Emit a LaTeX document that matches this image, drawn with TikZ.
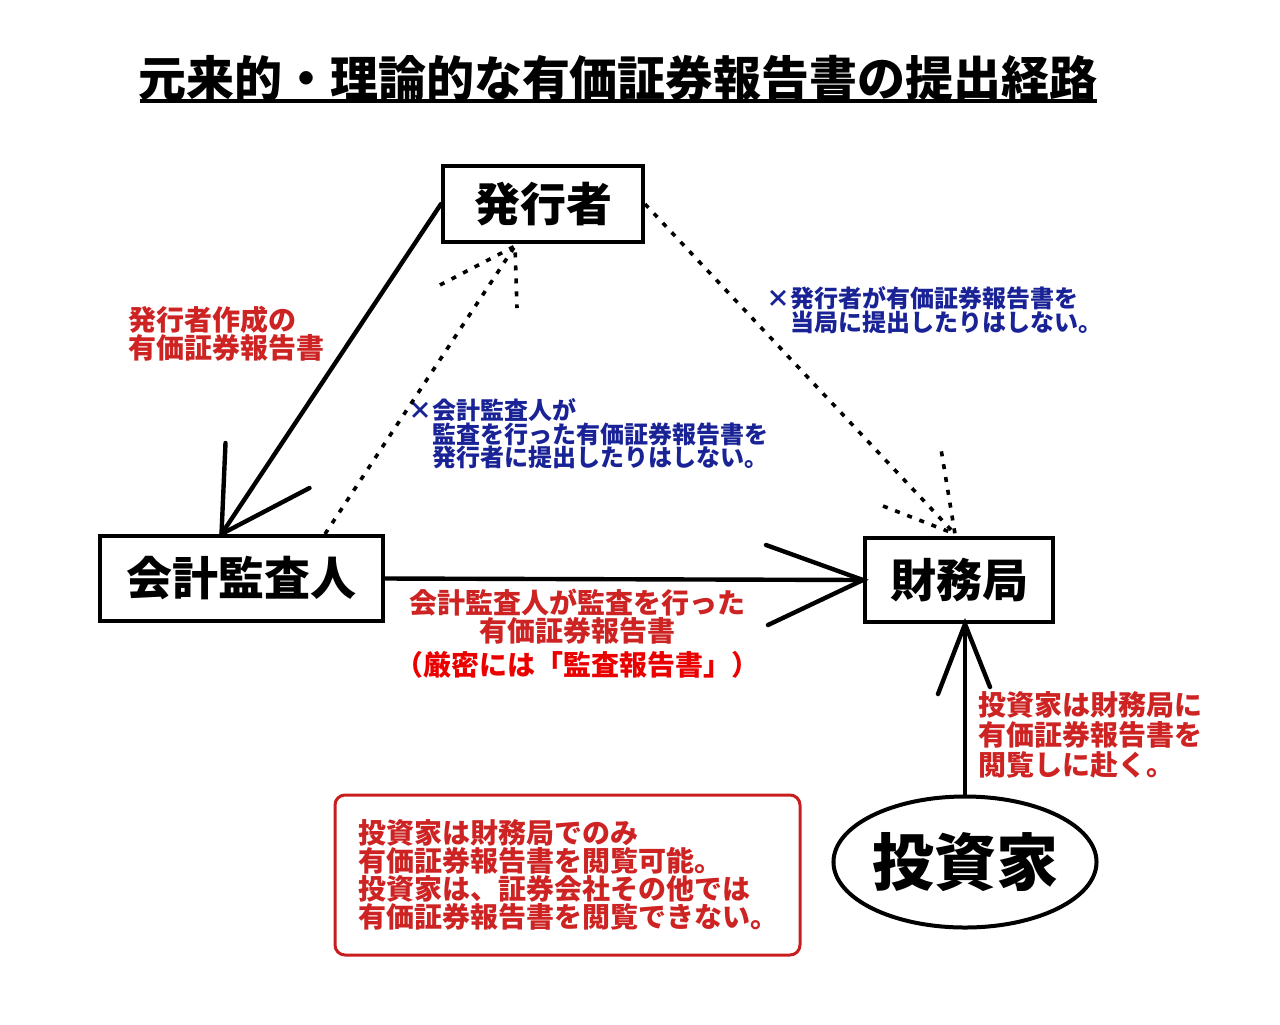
\documentclass[tikz,border=0pt]{standalone}
\usepackage{fontspec}
\setmainfont{Noto Sans CJK JP}
\usetikzlibrary{calc,shapes.geometric}
\definecolor{labelred}{RGB}{205,35,35}
\definecolor{brightred}{RGB}{235,0,0}
\definecolor{boxred}{RGB}{200,30,30}
\definecolor{noteblue}{RGB}{25,35,150}
\def\barbs[#1](#2)(#3)(#4){\draw[#1] ($(#2)+(#3)$) -- (#2) -- ($(#2)+(#4)$);}

\begin{document}
\begin{tikzpicture}[x=0.5pt, y=-0.5pt,
		box/.style={draw, line width=2pt, inner sep=0pt, font=\fontsize{23}{23}\selectfont\bfseries},
		redtext/.style={text=labelred, inner sep=0pt, align=left, font=\fontsize{14}{14}\selectfont\bfseries},
		bluetext/.style={text=noteblue, inner sep=0pt, align=left, font=\fontsize{12}{11.75}\selectfont\bfseries},
		solidline/.style={line width=2.2pt, line cap=round},
		dotline/.style={line width=1.8pt, dash pattern=on 2.5pt off 4pt}]
			%%%%% START %%%%%
			
			\useasboundingbox (0, 0) rectangle (1280, 1024);
			
			\node[inner sep=0pt, font=\fontsize{24}{24}\selectfont\bfseries] (title) at (618, 78) {元来的・理論的な有価証券報告書の提出経路};
			\draw[line width=2pt] (140, 101) -- (1097, 101);
			
			\node[box, minimum width=100pt, minimum height=38pt] (hakko) at (543, 204) {発行者};
			\node[box, minimum width=141.5pt, minimum height=42.5pt] (kaikei) at (241.5, 578.5) {会計監査人};
			\node[box, minimum width=94pt, minimum height=42pt] (zaimu) at (959, 580) {財務局};
			\node[draw, ellipse, line width=2pt, inner sep=0pt, minimum width=127.5pt, minimum height=65.5pt, font=\fontsize{31}{31}\selectfont\bfseries] (toushi) at (965, 862) {投資家};
			
			\node[redtext, anchor=west] (lblA) at (128, 334) {発行者作成の\\有価証券報告書};
			\node[bluetext, anchor=west] (noteA) at (432, 434) {\llap{×}会計監査人が\\監査を行った有価証券報告書を\\発行者に提出したりはしない。};
			\node[bluetext, anchor=west] (noteB) at (790, 310) {\llap{×}発行者が有価証券報告書を\\当局に提出したりはしない。};
			\node[redtext, align=center] (lblB) at (577, 634) {会計監査人が監査を行った\\有価証券報告書\\[3pt]\textcolor{brightred}{（厳密には「監査報告書」）}};
			\node[redtext, anchor=west, font=\fontsize{14}{15}\selectfont\bfseries] (lblC) at (978, 735) {投資家は財務局に\\有価証券報告書を\\閲覧しに赴く。};
			\node[redtext, draw=boxred, line width=1.5pt, rounded corners=5pt, text width=209pt, inner xsep=11.75pt, minimum height=80pt] (note) at (567.5, 875) {投資家は財務局でのみ\\有価証券報告書を閲覧可能。\\投資家は、証券会社その他では\\有価証券報告書を閲覧できない。};
			
			% solid arrows
			\coordinate (tipA) at ($(kaikei.north)+(-20, 0)$);
			\draw[solidline] (hakko.west) -- (tipA);
			\barbs[solidline](tipA)(4, -91)(88, -46)
			
			\draw[solidline] (kaikei.east) -- (zaimu.west);
			\barbs[solidline](zaimu.west)(-97, -35)(-95, 45)
			
			\coordinate (tipC) at (toushi.north |- zaimu.south);
			\draw[solidline] (toushi.north) -- (tipC);
			\barbs[solidline](tipC)(-27, 70)(25, 63)
			
			% dotted arrows
			\coordinate (startD) at ($(kaikei.north)+(83.5, 0)$);
			\coordinate (tipD) at ($(hakko.south)+(-28, 2)$);
			\draw[dotline] (startD) -- (tipD);
			\barbs[dotline](tipD)(-75, 39)(2, 62)
			
			\coordinate (tipE) at ($(zaimu.north)+(-4, -2)$);
			\draw[dotline] (hakko.east) -- (tipE);
			\barbs[dotline](tipE)(-72, -28)(-14, -85)
			
			%%%%% END %%%%%
		\end{tikzpicture}
\end{document}
